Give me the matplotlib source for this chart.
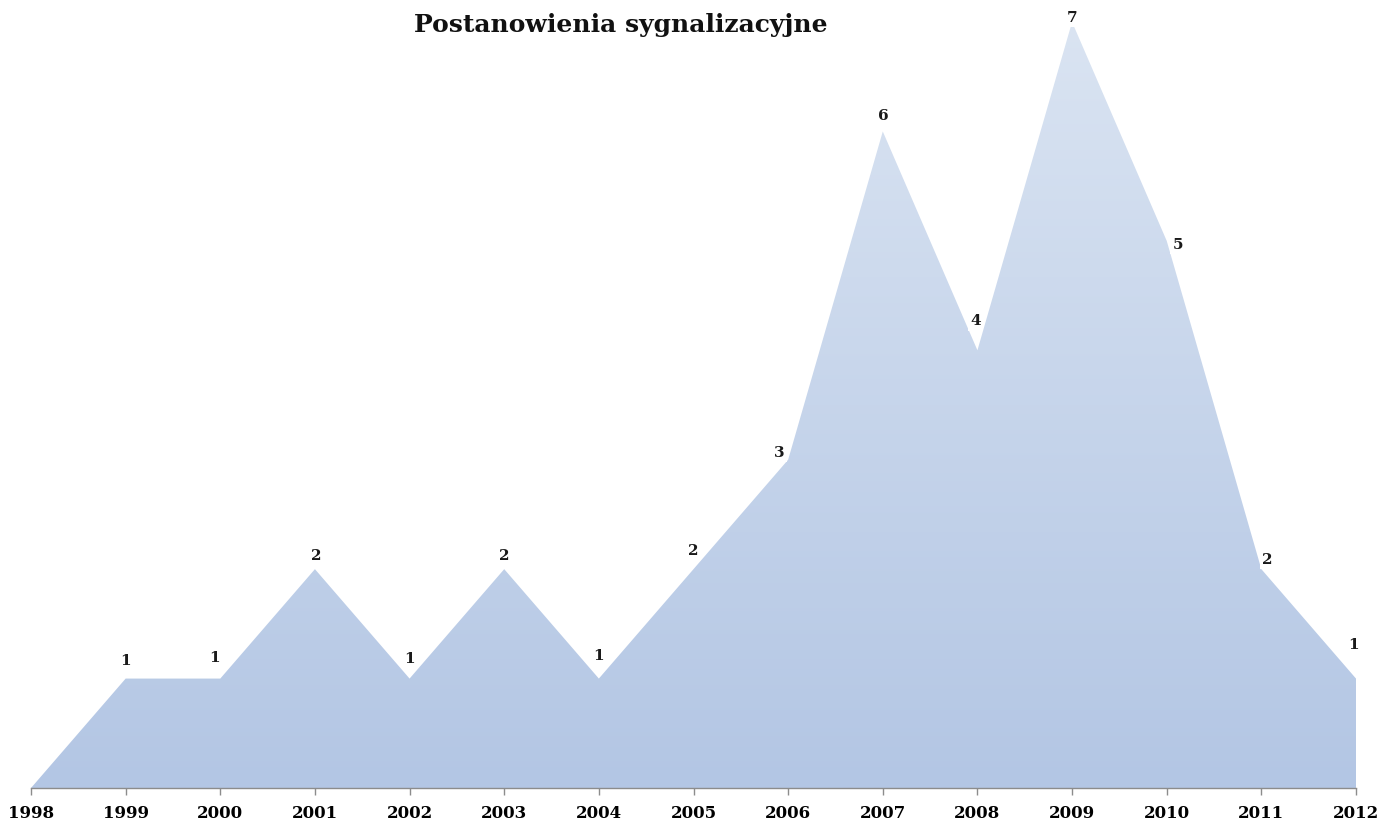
import numpy as np
import matplotlib.pyplot as plt
from matplotlib.colors import LinearSegmentedColormap

years = [1998, 1999, 2000, 2001, 2002, 2003, 2004, 2005, 2006, 2007, 2008, 2009, 2010, 2011, 2012]
counts = [0, 1, 1, 2, 1, 2, 1, 2, 3, 6, 4, 7, 5, 2, 1]
title = 'Postanowienia sygnalizacyjne'

# przesunięcia etykiet danych w pikselach (dx, dy w górę), jak w oryginale
label_shift = [(0, 0), (0, 18), (-6, 21), (1, 13), (0, 20), (0, 13), (0, 23), (0, 18),
               (-9, 7), (1, 15), (-2, 29), (0, 4), (11, -4), (6, 9), (-2, 34)]

plt.rcParams['font.family'] = ['DejaVu Serif']

fig = plt.figure(figsize=(13.83, 8.21), dpi=100)
ax = fig.add_axes([31 / 1383, 33 / 821, (1356 - 31) / 1383, (788 - 22) / 821])

x = np.array(years, dtype=float)
y = np.array(counts, dtype=float)

# wypełnienie z gradientem (jasny u góry, ciemniejszy na dole)
poly = ax.fill_between(x, 0, y, color='none', lw=0)
cmap = LinearSegmentedColormap.from_list('grad', ['#b3c6e4', '#dae4f2'])
grad = np.linspace(0, 1, 256).reshape(-1, 1)
img = ax.imshow(grad, cmap=cmap, aspect='auto', origin='lower',
                extent=[x.min(), x.max(), 0, 7], zorder=1)
img.set_clip_path(poly.get_paths()[0], transform=ax.transData)

ax.set_xlim(1998, 2012)
ax.set_ylim(0, 7)

# etykiety danych
for xi, yi, (dx, dy) in zip(years, counts, label_shift):
    if yi == 0:
        continue
    ax.annotate(str(yi), (xi, yi), xytext=(dx * 0.72, dy * 0.72), textcoords='offset points',
                ha='center', va='center', fontsize=11, fontweight='bold',
                color='#1a1a1a', annotation_clip=False, zorder=5,
                bbox=dict(boxstyle='square,pad=0.15', fc='white', ec='none'))

for s in ['top', 'right', 'left']:
    ax.spines[s].set_visible(False)
ax.spines['bottom'].set_color('#8c8c8c')
ax.spines['bottom'].set_linewidth(1)
ax.set_yticks([])
ax.set_xticks(years)
ax.set_xticklabels([str(v) for v in years], fontsize=12, fontweight='bold')
ax.tick_params(axis='x', direction='out', length=5, width=1, color='#8c8c8c', pad=7.5)

fig.text(621 / 1383, 1 - 25 / 821, title, ha='center', va='center',
         fontsize=18, fontweight='bold', color='#111111')

fig.savefig('out.png', dpi=100)
